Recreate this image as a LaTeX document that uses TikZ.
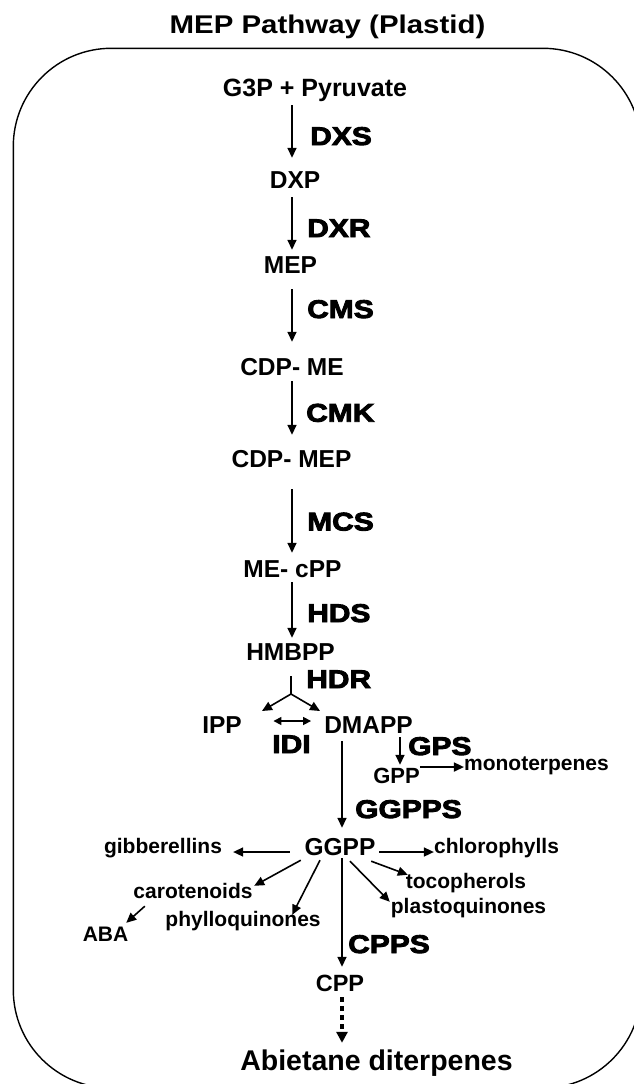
\documentclass[tikz,border=0pt]{standalone}
\usepackage{fontspec}
\setmainfont{Liberation Sans}
\newfontfamily\titlefont{Liberation Sans}[FakeStretch=1.15]
\newfontfamily\enzfont{Liberation Sans}[FakeStretch=1.17, BoldFeatures={FakeBold=3.5}]
\usetikzlibrary{arrows.meta}
\begin{document}
\begin{tikzpicture}[x=1pt,y=-1pt,
  met/.style={font=\bfseries\fontsize{24.5pt}{26pt}\selectfont, inner sep=0pt, text height=17.5pt, text depth=0pt, anchor=base},
  side/.style={font=\bfseries\fontsize{21pt}{22pt}\selectfont, inner sep=0pt, text height=15pt, text depth=0pt, anchor=base},
  enz/.style={font=\enzfont\bfseries\fontsize{25.6pt}{27pt}\selectfont, inner sep=0pt, text height=18.3pt, text depth=0pt, anchor=base west},
  arr/.style={line width=1.6pt, -{Triangle[length=10pt,width=9pt]}},
  plain/.style={line width=1.6pt},
  dotarr/.style={line width=3.2pt, dash pattern=on 5pt off 4pt, -{Triangle[length=11pt,width=11pt]}}
]
\useasboundingbox (0,0) rectangle (633,1084);
\draw[line width=1.4pt, rounded corners=98pt] (13.3,48.3) rectangle (641,1088);

\node[font=\titlefont\bfseries\fontsize{25.6pt}{27pt}\selectfont, inner sep=0pt, anchor=base] (title) at (327.5,33.3) {MEP Pathway (Plastid)};

% main column metabolites
\node[met, font=\bfseries\fontsize{25pt}{26pt}\selectfont] (g3p) at (315,96.7) {G3P + Pyruvate};
\node[met] (dxp) at (295,188) {DXP};
\node[met] (mep) at (290.5,273.5) {MEP};
\node[met] (cdpme) at (292,375.5) {CDP- ME};
\node[met] (cdpmep) at (291.5,467) {CDP- MEP};
\node[met] (mecpp) at (292.5,577) {ME- cPP};
\node[met] (hmbpp) at (290.5,660.5) {HMBPP};
\node[met] (ipp) at (222,733) {IPP};
\node[met] (dmapp) at (368.5,733) {DMAPP};
\node[met, font=\bfseries\fontsize{22pt}{23pt}\selectfont, text height=15.75pt] (gpp) at (396.5,783.5) {GPP};
\node[side] (mono) at (536.5,770) {monoterpenes};
\node[met] (ggpp) at (340,855.5) {GGPP};
\node[side] (gib) at (163,853) {gibberellins};
\node[side] (chl) at (496.5,853) {chlorophylls};
\node[side] (toco) at (466,888) {tocopherols};
\node[side] (plasto) at (468.5,913) {plastoquinones};
\node[side] (phyllo) at (243,926) {phylloquinones};
\node[side] (carot) at (193,898) {carotenoids};
\node[side] (aba) at (105.5,941.7) {ABA};
\node[met, font=\bfseries\fontsize{23.5pt}{25pt}\selectfont] (cpp) at (340,991.7) {CPP};
\node[met, font=\bfseries\fontsize{28.5pt}{30pt}\selectfont, text height=20.4pt] (abiet) at (376.5,1070) {Abietane diterpenes};

% enzymes
\node[enz] (dxs) at (310,145) {DXS};
\node[enz] (dxr) at (307,237) {DXR};
\node[enz] (cms) at (307,318) {CMS};
\node[enz] (cmk) at (306,421.7) {CMK};
\node[enz] (mcs) at (307,530.5) {MCS};
\node[enz] (hds) at (307,622) {HDS};
\node[enz] (hdr) at (306,688) {HDR};
\node[enz, anchor=base] (idi) at (291.5,753) {IDI};
\node[enz] (gps) at (408,755) {GPS};
\node[enz] (ggpps) at (355,818) {GGPPS};
\node[enz] (cpps) at (348,953) {CPPS};

% axes for vertical arrows
\coordinate (ax) at (292,0);
\coordinate (cx) at (342,0);
\coordinate (gx) at (400,0);

\draw[arr, shorten <=8.3pt, shorten >=12.5pt] (g3p.south -| ax) -- (dxp.north -| ax);
\draw[arr, shorten <=9pt, shorten >=6pt] (dxp.south -| ax) -- (mep.north -| ax);
\draw[arr, shorten <=15.5pt, shorten >=16pt] (mep.south -| ax) -- (cdpme.north -| ax);
\draw[arr, shorten <=5.5pt, shorten >=14.5pt] (cdpme.south -| ax) -- (cdpmep.north -| ax);
\draw[arr, shorten <=22pt, shorten >=6.5pt] (cdpmep.south -| ax) -- (mecpp.north -| ax);
\draw[arr, shorten <=5pt, shorten >=5pt] (mecpp.south -| ax) -- (hmbpp.north -| ax);

% HDR fork
\coordinate (fork) at (291,694);
\coordinate (forkL) at (262,711);
\coordinate (forkR) at (320,711);
\draw[plain, shorten <=15.5pt] (hmbpp.south -| fork) -- (fork);
\draw[arr] (fork) -- (forkL);
\draw[arr] (fork) -- (forkR);

% IDI
\draw[line width=1.6pt, {Triangle[length=8pt,width=8pt]}-{Triangle[length=8pt,width=8pt]}, shorten <=31.5pt, shorten >=13pt] ([yshift=3.25pt]ipp.east) -- ([yshift=3.25pt]ipp.east -| dmapp.west);

% DMAPP -> GGPP, GPS
\draw[arr, shorten <=8pt, shorten >=10pt] (dmapp.south -| cx) -- (ggpp.north -| cx);
\draw[arr, shorten <=4pt, shorten >=2.75pt] (dmapp.south -| gx) -- (gpp.north -| gx);
\draw[arr] ([yshift=8.6pt]gpp.east) -- ([yshift=8.6pt]gpp.east -| mono.west);

% GGPP branches
\draw[arr, shorten <=14.6pt, shorten >=11pt] ([yshift=-5.25pt]ggpp.west) -- ([yshift=-5.25pt]ggpp.west -| gib.east);
\draw[arr, shorten <=3.6pt] ([yshift=-5.25pt]ggpp.east) -- ([yshift=-5.25pt]ggpp.east -| chl.west);
\draw[arr] ([xshift=-4.4pt,yshift=-5.5pt]ggpp.south east) -- ([xshift=2.1pt,yshift=-2pt]toco.north west);
\draw[arr] ([xshift=10pt,yshift=-5.5pt]ggpp.south) -- ([xshift=-0.9pt,yshift=-4pt]plasto.north west);
\draw[arr] ([xshift=-20pt,yshift=-4.5pt]ggpp.south) -- ([xshift=-28.6pt,yshift=-4pt]phyllo.north east);
\draw[arr] ([xshift=-3.6pt,yshift=-4.5pt]ggpp.south west) -- ([xshift=1.5pt,yshift=-3pt]carot.north east);
\draw[arr] ([xshift=11.5pt,yshift=-8pt]carot.south west) -- ([xshift=-2.2pt,yshift=3.7pt]aba.north east);
\draw[arr, shorten <=2.5pt, shorten >=7.2pt] (ggpp.south -| cx) -- (cpp.north -| cx);
\draw[dotarr, shorten <=5.3pt, shorten >=6.6pt] (cpp.south -| cx) -- (abiet.north -| cx);
\end{tikzpicture}
\end{document}
